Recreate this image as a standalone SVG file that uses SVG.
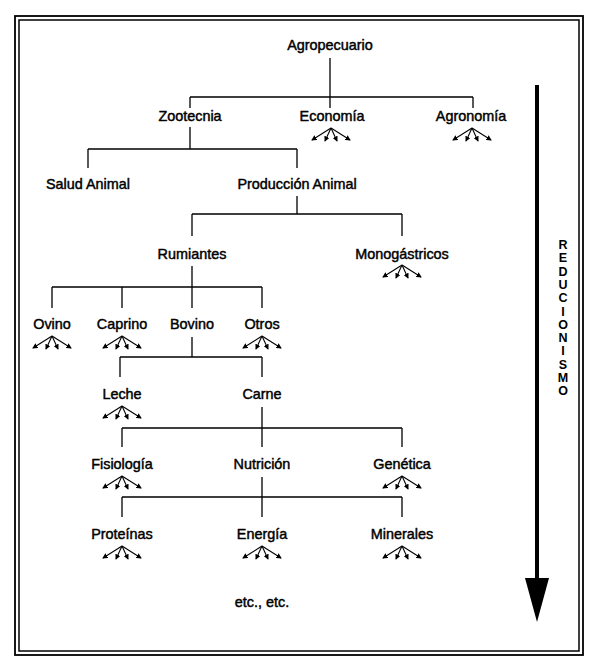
<svg xmlns="http://www.w3.org/2000/svg" width="600" height="668" viewBox="0 0 600 668">
<style>
  .lbl { font-family: "Liberation Sans", Arial, sans-serif; font-size: 14.4px; font-weight: normal; text-anchor: middle; fill: #000; stroke: #000; stroke-width: 0.45; stroke-linejoin: round; }
  .vert { font-family: "Liberation Sans", Arial, sans-serif; font-size: 12.5px; font-weight: bold; text-anchor: middle; fill: #000; }
  .ln { stroke: #000; stroke-width: 1.3; fill: none; }
  .fl { stroke: #000; stroke-width: 1.1; marker-end: url(#ah); }
</style>
<defs>
  <marker id="ah" viewBox="0 0 6 6" refX="5" refY="3" markerWidth="5.5" markerHeight="5.5" markerUnits="userSpaceOnUse" orient="auto">
    <path d="M0,0 L6,3 L0,6 Z" fill="#000"/>
  </marker>
  <g id="fan">
    <line class="fl" x1="0" y1="0" x2="-19" y2="12"/>
    <line class="fl" x1="0" y1="0" x2="-6" y2="13"/>
    <line class="fl" x1="0" y1="0" x2="6" y2="13"/>
    <line class="fl" x1="0" y1="0" x2="19" y2="12"/>
  </g>
</defs>
<rect x="0" y="0" width="600" height="668" fill="#fff"/>
<g id="frame" fill="none" stroke="#000">
  <rect x="15" y="16" width="568" height="639" stroke-width="1.8"/>
  <rect x="19" y="20" width="560" height="631" stroke-width="1.5"/>
</g>
<g id="connectors" class="ln">
  <path class="ln" d="M330,58 V108 M190,97 H473 M190,97 V108 M473,97 V108"/>
  <path class="ln" d="M190,127 V149 M88,149 H297 M88,149 V168 M297,149 V168"/>
  <path class="ln" d="M297,196 V214 M192,214 H402 M192,214 V236 M402,214 V236"/>
  <path class="ln" d="M192,266 V308 M52,287 H262 M52,287 V308 M122,287 V308 M262,287 V308"/>
  <path class="ln" d="M192,337 V357 M120,357 H262 M120,357 V377 M262,357 V377"/>
  <path class="ln" d="M262,407 V447 M122,428 H402 M122,428 V447 M402,428 V447"/>
  <path class="ln" d="M262,477 V517 M122,497 H402 M122,497 V517 M402,497 V517"/>
</g>
<g id="n-agropecuario"><text class="lbl" x="330" y="50">Agropecuario</text></g>
<g id="n-zootecnia"><text class="lbl" x="190" y="121">Zootecnia</text></g>
<g id="n-economia"><text class="lbl" x="332" y="121">Economía</text><use href="#fan" x="331" y="128"/></g>
<g id="n-agronomia"><text class="lbl" x="471" y="121">Agronomía</text><use href="#fan" x="472" y="128"/></g>
<g id="n-salud"><text class="lbl" x="88" y="189">Salud Animal</text></g>
<g id="n-produccion"><text class="lbl" x="297" y="189">Producción Animal</text></g>
<g id="n-rumiantes"><text class="lbl" x="192" y="259">Rumiantes</text></g>
<g id="n-monogastricos"><text class="lbl" x="402" y="259">Monogástricos</text><use href="#fan" x="402" y="265"/></g>
<g id="n-ovino"><text class="lbl" x="52" y="329">Ovino</text><use href="#fan" x="52" y="336"/></g>
<g id="n-caprino"><text class="lbl" x="122" y="329">Caprino</text><use href="#fan" x="122" y="336"/></g>
<g id="n-bovino"><text class="lbl" x="192" y="329">Bovino</text></g>
<g id="n-otros"><text class="lbl" x="262" y="329">Otros</text><use href="#fan" x="262" y="336"/></g>
<g id="n-leche"><text class="lbl" x="122" y="399">Leche</text><use href="#fan" x="122" y="406"/></g>
<g id="n-carne"><text class="lbl" x="262" y="399">Carne</text></g>
<g id="n-fisiologia"><text class="lbl" x="122" y="469">Fisiología</text><use href="#fan" x="122" y="476"/></g>
<g id="n-nutricion"><text class="lbl" x="262" y="469">Nutrición</text></g>
<g id="n-genetica"><text class="lbl" x="402" y="469">Genética</text><use href="#fan" x="402" y="476"/></g>
<g id="n-proteinas"><text class="lbl" x="122" y="539">Proteínas</text><use href="#fan" x="122" y="546"/></g>
<g id="n-energia"><text class="lbl" x="262" y="539">Energía</text><use href="#fan" x="262" y="546"/></g>
<g id="n-minerales"><text class="lbl" x="402" y="539">Minerales</text><use href="#fan" x="402" y="546"/></g>
<g id="n-etc"><text class="lbl" x="262" y="607">etc., etc.</text></g>
<g id="reduccionismo">
  <rect x="535" y="85" width="4" height="495" fill="#000"/>
  <polygon points="525,578 549,578 537,622" fill="#000"/>
  <text class="vert" x="563" y="0">
    <tspan x="563" y="249">R</tspan><tspan x="563" y="262.3">E</tspan><tspan x="563" y="275.6">D</tspan><tspan x="563" y="288.9">U</tspan><tspan x="563" y="302.2">C</tspan><tspan x="563" y="315.5">I</tspan><tspan x="563" y="328.8">O</tspan><tspan x="563" y="342.1">N</tspan><tspan x="563" y="355.4">I</tspan><tspan x="563" y="368.7">S</tspan><tspan x="563" y="382">M</tspan><tspan x="563" y="395.3">O</tspan>
  </text>
</g>
</svg>
